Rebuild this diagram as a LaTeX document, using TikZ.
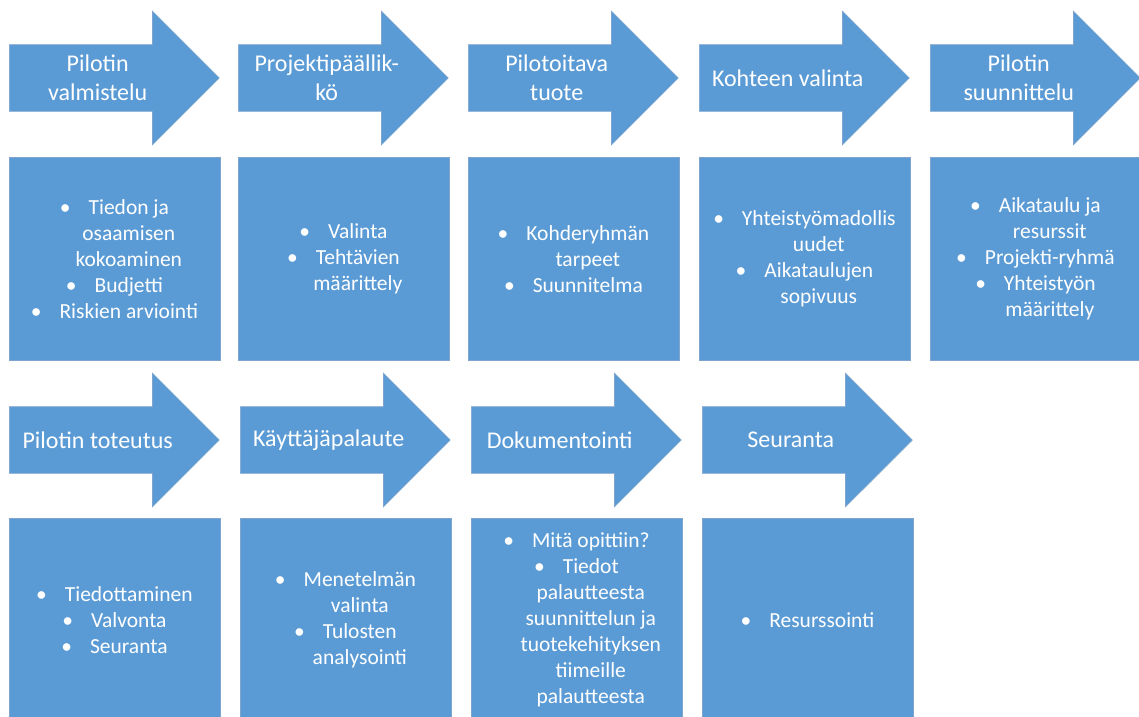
\documentclass[tikz,border=0pt]{standalone}
\usepackage{fontspec}
\setmainfont{Carlito}
\usetikzlibrary{shapes.arrows, calc}
\definecolor{sininen}{RGB}{91,155,213}
\definecolor{reuna}{RGB}{128,164,206}
\tikzset{
	x=1pt, y=-1pt, % yksi piste = yksi pikseli, y alaspain
	vaihe/.style={single arrow, fill=sininen, draw=reuna, line width=0.6pt,
		minimum width=133pt, minimum height=210pt,
		single arrow head extend=33.5pt, inner xsep=0pt, inner ysep=33pt, anchor=tail}, % vaiheen nuoli
	otsikko/.style={text=white, align=center, font=\fontsize{24}{29}\selectfont}, % nuolen teksti
	laatikko/.style={rectangle, fill=sininen, draw=reuna, line width=0.6pt,
		minimum width=211pt, minimum height=203pt, inner sep=0pt, anchor=north west}, % sisaltolaatikko
	luettelo/.style={text=white, align=center, font=\fontsize{21.5}{26}\selectfont, xshift=14pt} % luettelon teksti
}
\newcommand{\pallo}{\llap{\textbullet\hspace{18pt}}}

\begin{document}
\begin{tikzpicture}
	\useasboundingbox (0,0) rectangle (1139,716);
	\clip (0,0) rectangle (1139,716);
	\fill[white] (0,0) rectangle (1139,716);

	% ylarivi
	\node[vaihe] (n1) at (9,78) {};
	\node[vaihe] (n2) at (238,78) {};
	\node[vaihe] (n3) at (468,78) {};
	\node[vaihe] (n4) at (699,78) {};
	\node[vaihe] (n5) at (930,78) {};
	\node[otsikko] (o1) at ($(n1.tail)!0.421!(n1.tip)$) {Pilotin\\valmistelu};
	\node[otsikko] (o2) at ($(n2.tail)!0.421!(n2.tip)$) {Projektipäällik-\\kö};
	\node[otsikko] (o3) at ($(n3.tail)!0.421!(n3.tip)$) {Pilotoitava\\tuote};
	\node[otsikko] (o4) at ($(n4.tail)!0.421!(n4.tip)$) {Kohteen valinta};
	\node[otsikko] (o5) at ($(n5.tail)!0.421!(n5.tip)$) {Pilotin\\suunnittelu};

	\node[laatikko] (s1) at (9,157) {};
	\node[laatikko] (s2) at (238,157) {};
	\node[laatikko] (s3) at (468,157) {};
	\node[laatikko] (s4) at (699,157) {};
	\node[laatikko] (s5) at (930,157) {};
	\node[luettelo] (l1) at (s1.center) {\pallo Tiedon ja\\osaamisen\\kokoaminen\\\pallo Budjetti\\\pallo Riskien arviointi};
	\node[luettelo] (l2) at (s2.center) {\pallo Valinta\\\pallo Tehtävien\\määrittely};
	\node[luettelo] (l3) at (s3.center) {\pallo Kohderyhmän\\tarpeet\\\pallo Suunnitelma};
	\node[luettelo] (l4) at (s4.center) {\pallo Yhteistyömadollis\\uudet\\\pallo Aikataulujen\\sopivuus};
	\node[luettelo] (l5) at (s5.center) {\pallo Aikataulu ja\\resurssit\\\pallo Projekti-ryhmä\\\pallo Yhteistyön\\määrittely};

	% alarivi
	\node[vaihe] (n6) at (9,440) {};
	\node[vaihe] (n7) at (240,440) {};
	\node[vaihe] (n8) at (471,440) {};
	\node[vaihe] (n9) at (702,440) {};
	\node[otsikko] (o6) at ($(n6.tail)!0.421!(n6.tip)$) {Pilotin toteutus};
	\node[otsikko] (o7) at ($(n7.tail)!0.421!(n7.tip)$) {Käyttäjäpalaute};
	\node[otsikko] (o8) at ($(n8.tail)!0.421!(n8.tip)$) {Dokumentointi};
	\node[otsikko] (o9) at ($(n9.tail)!0.421!(n9.tip)$) {Seuranta};

	\node[laatikko] (s6) at (9,518) {};
	\node[laatikko] (s7) at (240,518) {};
	\node[laatikko] (s8) at (471,518) {};
	\node[laatikko] (s9) at (702,518) {};
	\node[luettelo] (l6) at (s6.center) {\pallo Tiedottaminen\\\pallo Valvonta\\\pallo Seuranta};
	\node[luettelo] (l7) at (s7.center) {\pallo Menetelmän\\valinta\\\pallo Tulosten\\analysointi};
	\node[luettelo] (l8) at (s8.center) {\pallo Mitä opittiin?\\\pallo Tiedot\\palautteesta\\suunnittelun ja\\tuotekehityksen\\tiimeille\\palautteesta};
	\node[luettelo] (l9) at (s9.center) {\pallo Resurssointi};
\end{tikzpicture}
\end{document}
